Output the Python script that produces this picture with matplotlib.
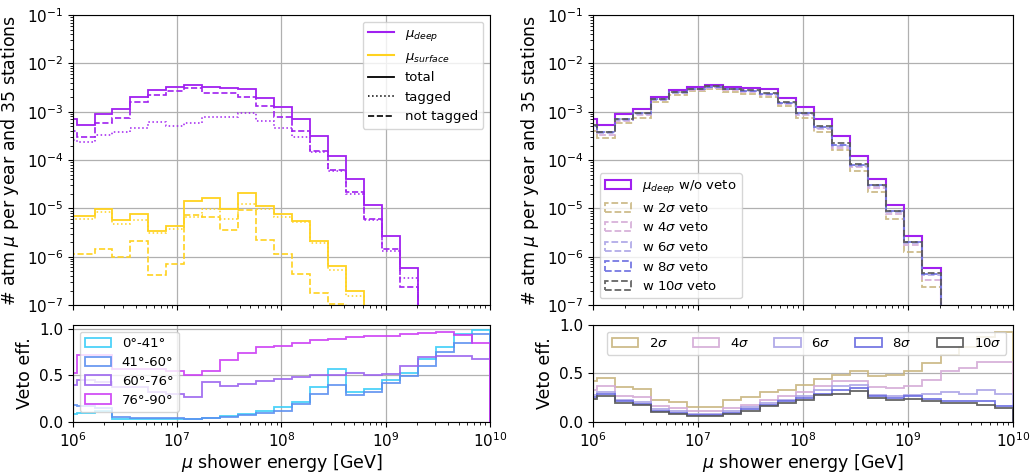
import numpy as np
import matplotlib
matplotlib.use("Agg")
import matplotlib.pyplot as plt
from matplotlib.lines import Line2D

# bin edges of the energy histograms (only the visible part, 10^5.86 .. 10^10)
edges = np.logspace(5, 10, 30)[5:]

# ---- top left: muon rates per bin ----
deep_total = [6.97e-4, 5.3e-4, 8.97e-4, 1.14e-3, 2.05e-3, 2.81e-3, 3.19e-3, 3.56e-3,
              3.29e-3, 3.14e-3, 2.90e-3, 1.95e-3, 1.23e-3, 6.97e-4, 3.10e-4, 1.24e-4,
              4.07e-5, 1.16e-5, 2.71e-6, 5.9e-7, 0, 0, 0, 0]
deep_tagged = [2.61e-4, 2.41e-4, 3.31e-4, 3.87e-4, 4.54e-4, 6.04e-4, 5.07e-4, 5.75e-4,
               7.66e-4, 7.91e-4, 9.26e-4, 6.53e-4, 4.68e-4, 2.96e-4, 1.50e-4, 6.05e-5,
               1.96e-5, 5.8e-6, 1.29e-6, 3.6e-7, 0, 0, 0, 0]
deep_not_tagged = [4.0e-4, 2.96e-4, 5.75e-4, 7.53e-4, 1.61e-3, 2.22e-3, 2.72e-3, 3.04e-3,
                   2.48e-3, 2.40e-3, 2.05e-3, 1.33e-3, 7.66e-4, 3.94e-4, 1.57e-4, 6.25e-5,
                   2.16e-5, 6.08e-6, 1.44e-6, 2.35e-7, 0, 0, 0, 0]
surf_total = [7.13e-6, 7.13e-6, 9.78e-6, 5.71e-6, 7.83e-6, 3.49e-6, 4.29e-6, 1.43e-5,
              1.68e-5, 9.78e-6, 2.13e-5, 1.15e-5, 7.83e-6, 5.61e-6, 2.13e-6, 6.3e-7,
              1.98e-7, 0, 0, 0, 0, 0, 0, 0]
surf_tagged = [6.08e-6, 6.08e-6, 8.61e-6, 4.79e-6, 5.71e-6, 3.08e-6, 3.72e-6, 6.79e-6,
               9.78e-6, 6.08e-6, 1.22e-5, 9.78e-6, 6.79e-6, 5.19e-6, 1.91e-6, 5.37e-7,
               1.51e-7, 0, 0, 0, 0, 0, 0, 0]
surf_not_tagged = [1.15e-6, 1.15e-6, 1.48e-6, 1.01e-6, 2.1e-6, 4.17e-7, 7.14e-7, 7.35e-6,
                   6.79e-6, 3.6e-6, 9.33e-6, 2.24e-6, 1.13e-6, 4.3e-7, 1.77e-7, 1.05e-7,
                   0, 0, 0, 0, 0, 0, 0, 0]

# ---- bottom left: veto efficiency per zenith band ----
zen_labels = ["0°-41°", "41°-60°", "60°-76°", "76°-90°"]
zen_colors = ["#38cdf8", "#5b8ef0", "#9a62ee", "#cc3cf5"]
eff_0_41 = [0.08, 0.095, 0.12, 0.035, 0.03, 0.03, 0.03, 0.03, 0.045, 0.06, 0.09, 0.12,
            0.16, 0.21, 0.375, 0.565, 0.32, 0.357, 0.446, 0.523, 0.673, 0.80, 0.945, 0.983]
eff_41_60 = [0.18, 0.17, 0.145, 0.05, 0.045, 0.045, 0.04, 0.035, 0.04, 0.05, 0.075, 0.10,
             0.12, 0.19, 0.30, 0.40, 0.293, 0.321, 0.418, 0.488, 0.596, 0.746, 0.846, 0.946]
eff_60_76 = [0.40, 0.45, 0.43, 0.37, 0.37, 0.32, 0.30, 0.27, 0.43, 0.38, 0.41, 0.44,
             0.46, 0.478, 0.50, 0.507, 0.525, 0.507, 0.514, 0.596, 0.692, 0.71, 0.71, 0.678]
eff_76_90 = [0.52, 0.72, 0.72, 0.57, 0.57, 0.57, 0.55, 0.50, 0.55, 0.66, 0.74, 0.80,
             0.81, 0.846, 0.874, 0.889, 0.906, 0.924, 0.917, 0.942, 0.953, 0.96, 0.928, 0.842]

# ---- top right: rate after veto ----
veto_2s = [4.06e-4, 2.90e-4, 5.78e-4, 7.54e-4, 1.59e-3, 2.23e-3, 2.69e-3, 3.02e-3,
           2.53e-3, 2.35e-3, 2.01e-3, 1.31e-3, 7.58e-4, 3.89e-4, 1.59e-4, 5.94e-5,
           2.16e-5, 6.03e-6, 1.28e-6, 2.32e-7, 0, 0, 0, 0]
veto_4s = [4.66e-4, 3.36e-4, 6.60e-4, 8.52e-4, 1.72e-3, 2.41e-3, 2.84e-3, 3.17e-3,
           2.82e-3, 2.58e-3, 2.23e-3, 1.44e-3, 8.49e-4, 4.42e-4, 1.80e-4, 7.13e-5,
           2.62e-5, 7.54e-6, 1.72e-6, 3.33e-7, 0, 0, 0, 0]
veto_6s = [5.02e-4, 3.67e-4, 6.91e-4, 9.06e-4, 1.77e-3, 2.50e-3, 2.93e-3, 3.27e-3,
           2.93e-3, 2.67e-3, 2.33e-3, 1.50e-3, 8.98e-4, 4.66e-4, 1.97e-4, 7.64e-5,
           2.93e-5, 8.54e-6, 1.97e-6, 4.20e-7, 0, 0, 0, 0]
veto_8s = [5.16e-4, 3.77e-4, 7.07e-4, 9.26e-4, 1.81e-3, 2.55e-3, 2.97e-3, 3.32e-3,
           2.99e-3, 2.71e-3, 2.38e-3, 1.54e-3, 9.26e-4, 4.96e-4, 2.07e-4, 8.06e-5,
           3.00e-5, 8.73e-6, 1.99e-6, 4.48e-7, 0, 0, 0, 0]
veto_10s = [5.30e-4, 3.90e-4, 7.22e-4, 9.45e-4, 1.85e-3, 2.58e-3, 2.99e-3, 3.35e-3,
            3.02e-3, 2.78e-3, 2.43e-3, 1.57e-3, 9.47e-4, 5.06e-4, 2.21e-4, 8.41e-5,
            3.06e-5, 8.93e-6, 2.06e-6, 4.61e-7, 0, 0, 0, 0]

# ---- bottom right: veto efficiency per threshold ----
sig_labels = [r"2$\sigma$", r"4$\sigma$", r"6$\sigma$", r"8$\sigma$", r"10$\sigma$"]
sig_colors = ["#c8b57e", "#d3aad6", "#a9a2e6", "#6769e0", "#555555"]
eff_2s = [0.418, 0.452, 0.356, 0.339, 0.223, 0.205, 0.157, 0.151, 0.23, 0.253, 0.308, 0.33,
          0.384, 0.442, 0.487, 0.521, 0.47, 0.48, 0.528, 0.607, 0.685, 0.777, 0.88, 0.925]
eff_4s = [0.332, 0.366, 0.264, 0.253, 0.161, 0.144, 0.11, 0.11, 0.144, 0.178, 0.23, 0.264,
          0.31, 0.366, 0.418, 0.425, 0.356, 0.35, 0.366, 0.435, 0.521, 0.555, 0.613, 0.613]
eff_6s = [0.28, 0.308, 0.23, 0.205, 0.137, 0.11, 0.082, 0.082, 0.11, 0.151, 0.195, 0.23,
          0.27, 0.332, 0.366, 0.384, 0.281, 0.264, 0.274, 0.288, 0.308, 0.288, 0.332, 0.288]
eff_8s = [0.26, 0.288, 0.212, 0.188, 0.116, 0.092, 0.068, 0.068, 0.092, 0.137, 0.178, 0.212,
          0.247, 0.288, 0.332, 0.35, 0.264, 0.247, 0.264, 0.24, 0.219, 0.219, 0.219, 0.161]
eff_10s = [0.24, 0.264, 0.195, 0.171, 0.099, 0.082, 0.062, 0.058, 0.082, 0.116, 0.161, 0.195,
           0.23, 0.274, 0.288, 0.322, 0.247, 0.23, 0.24, 0.219, 0.195, 0.195, 0.171, 0.144]

deep_color = "#a020f0"
surf_color = "#ffd21f"

plt.rcParams["font.size"] = 11
centers = np.sqrt(edges[:-1] * edges[1:])


def hstep(ax, vals, **kw):
    ax.hist(centers, bins=edges, weights=vals, histtype="step", **kw)


fig = plt.figure(figsize=(10.32, 4.73), dpi=100)
ax1 = fig.add_axes([0.0707, 0.355, 0.404, 0.613])
ax2 = fig.add_axes([0.0707, 0.108, 0.404, 0.205])
ax3 = fig.add_axes([0.5746, 0.355, 0.407, 0.613])
ax4 = fig.add_axes([0.5746, 0.108, 0.407, 0.205])

# top left
for ax in (ax1, ax3):
    ax.set_yscale("log", nonpositive="clip")
hstep(ax1, deep_total, color=deep_color, lw=1.3, log=True)
hstep(ax1, deep_tagged, color=deep_color, lw=1.1, ls=":", log=True)
hstep(ax1, deep_not_tagged, color=deep_color, lw=1.2, ls="--", log=True)
hstep(ax1, surf_total, color=surf_color, lw=1.3, log=True)
hstep(ax1, surf_tagged, color=surf_color, lw=1.1, ls=":", log=True)
hstep(ax1, surf_not_tagged, color=surf_color, lw=1.2, ls="--", log=True)
handles = [Line2D([], [], color=deep_color, lw=1.5),
           Line2D([], [], color=surf_color, lw=1.5),
           Line2D([], [], color="k", lw=1.3),
           Line2D([], [], color="k", lw=1.1, ls=":"),
           Line2D([], [], color="k", lw=1.2, ls="--")]
ax1.legend(handles, [r"$\mu_{deep}$", r"$\mu_{surface}$", "total", "tagged", "not tagged"],
           loc="upper right", fontsize=9.5)

# top right
hstep(ax3, deep_total, color=deep_color, lw=1.5, log=True, label=r"$\mu_{deep}$ w/o veto")
for vals, c, lab in zip([veto_2s, veto_4s, veto_6s, veto_8s, veto_10s], sig_colors,
                        ["2", "4", "6", "8", "10"]):
    hstep(ax3, vals, color=c, lw=1.3, ls="--", alpha=0.9, log=True,
          label=r"w %s$\sigma$ veto" % lab)
ax3.legend(loc="lower left", fontsize=9.5)

for ax in (ax1, ax3):
    ax.set_ylim(1e-7, 1e-1)
    ax.set_ylabel(r"# atm $\mu$ per year and 35 stations", fontsize=12.5)
    ax.tick_params(labelbottom=False)

# bottom left
for vals, c, lab in zip([eff_0_41, eff_41_60, eff_60_76, eff_76_90], zen_colors, zen_labels):
    hstep(ax2, vals, color=c, lw=1.3, alpha=0.9, label=lab)
ax2.set_ylim(0, 1.04)
ax2.legend(loc="upper left", fontsize=9.5, labelspacing=0.45)

# bottom right
for vals, c, lab in zip([eff_2s, eff_4s, eff_6s, eff_8s, eff_10s], sig_colors, sig_labels):
    hstep(ax4, vals, color=c, lw=1.3, alpha=0.9, label=lab)
ax4.set_ylim(0, 1)
ax4.legend(loc="upper right", ncol=5, fontsize=9.5, columnspacing=1.9)

for ax in (ax2, ax4):
    ax.set_ylabel("Veto eff.", fontsize=12.5)
    ax.set_xlabel(r"$\mu$ shower energy [GeV]", fontsize=12.5, labelpad=1)
    ax.set_yticks([0, 0.5, 1.0])

for ax in (ax1, ax2, ax3, ax4):
    ax.set_xscale("log")
    ax.set_xlim(1e6, 1e10)
    ax.grid(True, color="#b0b0b0", lw=0.9)
    ax.set_axisbelow(True)

fig.savefig("out.png", dpi=100)
